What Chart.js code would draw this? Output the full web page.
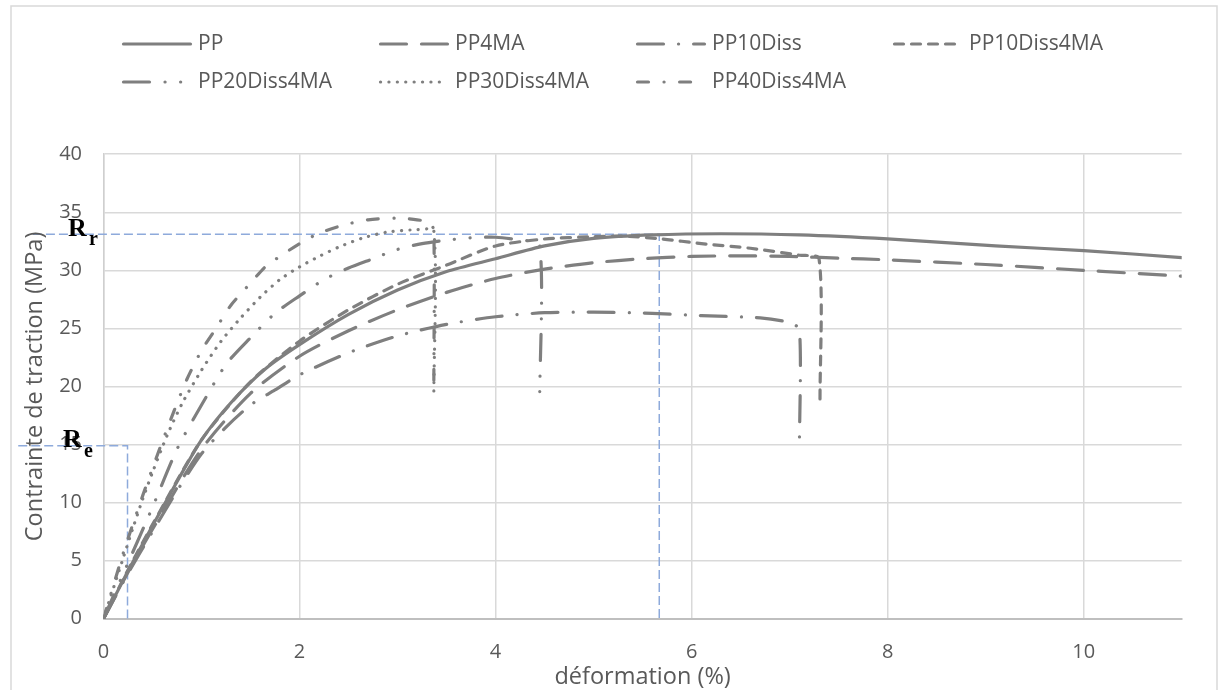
<!DOCTYPE html>
<html>
<head>
<meta charset="utf-8">
<script src="https://cdn.jsdelivr.net/npm/chart.js@4.4.1/dist/chart.umd.min.js"></script>
<style>
    html, body { margin: 0; padding: 0; background: #fff; }
    #wrap { position: relative; width: 1226px; height: 690px; }
</style>
</head>
<body>
<div id="wrap"><canvas id="chart"></canvas></div>
<script>
const FONT       = "'Open Sans', sans-serif";
const TEXT_COLOR = '#595959';
const LINE_COLOR = '#7f7f7f';
const GRID_COLOR = '#d9d9d9';
const REF_COLOR  = '#8eaadb';

// series names, legend order
const seriesNames = ['PP', 'PP4MA', 'PP10Diss', 'PP10Diss4MA', 'PP20Diss4MA', 'PP30Diss4MA', 'PP40Diss4MA'];

// [déformation %, contrainte MPa]
const pp = [[0,0],[0.25,4.1],[0.5,8.0],[0.75,11.8],[1,15.4],[1.3,18.6],[1.65,21.5],[2,23.6],[2.5,26.2],[3,28.3],
            [3.5,29.9],[4,31.0],[4.5,32.1],[5,32.75],[5.6,33.05],[6.3,33.15],[7.1,33.05],[8,32.7],[9.1,32.1],[10,31.7],[11,31.1]];
const pp4ma = [[0,0],[0.25,4.0],[0.5,7.7],[1,14.6],[1.5,19.4],[2,22.6],[2.5,24.8],[3,26.6],[3.5,28.1],[4,29.3],[4.5,30.1],
               [5,30.65],[5.5,31.0],[6,31.2],[6.5,31.25],[7,31.2],[7.5,31.05],[8,30.9],[9,30.5],[10,30.0],[11,29.5]];
const pp10diss = [[0,0],[0.25,3.9],[0.5,7.5],[0.75,11.0],[1,14.2],[1.25,16.5],[1.5,18.4],[1.75,19.7],[2,21.0],[2.5,22.9],
                  [3,24.35],[3.5,25.35],[4,26.0],[4.5,26.35],[5,26.4],[5.6,26.3],[6.1,26.1],[6.7,25.9],[7.0,25.5],[7.1,24.9],[7.1,14.8]];
const pp10diss4ma = [[0,0],[0.25,4.2],[0.5,8.1],[1,15.4],[1.5,20.4],[2,23.9],[2.5,26.6],[3,28.8],[3.5,30.45],[4,32.1],
                     [4.5,32.7],[5,32.9],[5.3,32.95],[5.7,32.7],[6.1,32.3],[6.6,31.9],[7.1,31.3],[7.3,31.0],[7.31,18.7]];
const pp20diss4ma = [[0,0],[0.25,4.8],[0.5,9.6],[0.75,14.6],[1,18.4],[1.25,21.9],[1.5,24.2],[1.75,26.3],[2,27.8],[2.25,29.2],
                     [2.5,30.2],[2.75,31.0],[3,31.8],[3.25,32.3],[3.5,32.6],[3.75,32.8],[4,32.85],[4.25,32.6],[4.45,32.2],[4.45,18.8]];
const pp30diss4ma = [[0,0],[0.2,5.2],[0.3,7.8],[0.4,10.3],[0.5,12.6],[0.65,15.8],[0.8,18.5],[1,21.4],[1.2,23.9],[1.4,25.9],
                     [1.6,27.7],[1.8,29.2],[2,30.3],[2.2,31.2],[2.4,32.0],[2.65,32.8],[2.9,33.3],[3.2,33.5],[3.37,33.4],[3.37,19.1]];
const pp40diss4ma = [[0,0],[0.2,5.6],[0.4,10.6],[0.58,14.8],[0.72,17.9],[0.85,20.6],[1,23.1],[1.14,24.9],[1.3,27.0],[1.5,28.9],
                     [1.65,30.3],[1.8,31.2],[2,32.3],[2.2,33.2],[2.45,33.9],[2.7,34.35],[3,34.5],[3.2,34.35],[3.33,34.1],[3.37,33.4],[3.37,19.5]];

// Rr / Re guide lines (extend left past the axis)
const rrGuide = [[-0.72,33.1],[5.67,33.1],[5.67,0]];
const reGuide = [[-0.87,14.9],[0.245,14.9],[0.245,0]];

const xTicksStep = 2, xMax = 11;
const yTicksStep = 5, yMax = 40;

// excel-like dash styles (round caps)
const dashes = [
    [],
    [26, 15],
    [26, 15, 0.1, 15],
    [9, 8],
    [26, 15.5, 0.1, 15.5, 0.1, 15.5],
    [0.1, 8.3],
    [11, 15.5, 0.1, 15.5]
];

const seriesData = [pp, pp4ma, pp10diss, pp10diss4ma, pp20diss4ma, pp30diss4ma, pp40diss4ma];

const toXY = arr => arr.map(p => ({ x: p[0], y: p[1] }));

const datasets = seriesData.map((arr, i) => ({
    label: seriesNames[i],
    data: toXY(arr),
    borderColor: LINE_COLOR,
    borderWidth: 3.2,
    borderDash: dashes[i],
    borderCapStyle: 'round',
    borderJoinStyle: 'round',
    pointRadius: 0,
    tension: 0.25,
    fill: false
}));

[rrGuide, reGuide].forEach(g => datasets.push({
    label: '',
    data: toXY(g),
    borderColor: REF_COLOR,
    borderWidth: 1.5,
    borderDash: [9, 4],
    pointRadius: 0,
    tension: 0,
    clip: false,
    fill: false
}));


const decoPlugin = {
    id: 'deco',
    beforeDraw(chart) {
        const ctx = chart.ctx;
        ctx.save();
        ctx.fillStyle = '#fff';
        ctx.fillRect(0, 0, chart.width, chart.height);
        ctx.strokeStyle = GRID_COLOR;
        ctx.lineWidth = 1.5;
        ctx.strokeRect(11, 6, 1206, 700);
        ctx.restore();
    },
    afterDraw(chart) {
        const ctx = chart.ctx;
        const area = chart.chartArea;
        const ys = chart.scales.y;
        ctx.save();

        // legend, 4 columns
        seriesNames.forEach((name, i) => {
            const ds = chart.data.datasets[i];
            const x = 122 + (i % 4) * 257;
            const y = i < 4 ? 44 : 82;
            ctx.strokeStyle = ds.borderColor;
            ctx.lineWidth = ds.borderWidth;
            ctx.lineCap = 'round';
            ctx.setLineDash(ds.borderDash);
            ctx.beginPath();
            ctx.moveTo(x + 1.5, y);
            ctx.lineTo(x + 68.5, y);
            ctx.stroke();
            ctx.setLineDash([]);
            ctx.fillStyle = TEXT_COLOR;
            ctx.font = '21px ' + FONT;
            ctx.textBaseline = 'middle';
            ctx.textAlign = 'left';
            ctx.fillText(name, x + 76, y);
        });

        // axis titles
        ctx.fillStyle = TEXT_COLOR;
        ctx.font = '23.5px ' + FONT;
        ctx.textAlign = 'center';
        ctx.textBaseline = 'middle';
        ctx.fillText('déformation (%)', (area.left + area.right) / 2, 677);
        ctx.save();
        ctx.translate(35, (area.top + area.bottom) / 2);
        ctx.rotate(-Math.PI / 2);
        ctx.fillText('Contrainte de traction (MPa)', 0, 0);
        ctx.restore();

        // Rr and Re labels
        ctx.fillStyle = '#000';
        ctx.textAlign = 'left';
        ctx.textBaseline = 'alphabetic';
        const yr = ys.getPixelForValue(rrGuide[0][1]);
        const ye = ys.getPixelForValue(reGuide[0][1]);
        ctx.font = 'bold 26px "Liberation Serif", serif';
        ctx.fillText('R', area.left - 35.5, yr + 2);
        ctx.fillText('R', area.left - 40.5, ye + 1);
        ctx.font = 'bold 20px "Liberation Serif", serif';
        ctx.fillText('r', area.left - 14.5, yr + 11);
        ctx.fillText('e', area.left - 19.5, ye + 11.5);

        ctx.restore();
    }
};

new Chart(document.getElementById('chart'), {
    type: 'line',
    data: { datasets },
    options: {
        responsive: true,
        maintainAspectRatio: false,
        animation: false,
        events: [],
        layout: { padding: { left: 0, right: 44.3, top: 154.2, bottom: 0 } },
        plugins: {
            legend: { display: false },
            tooltip: { enabled: false }
        },
        scales: {
            x: {
                type: 'linear',
                min: 0,
                max: xMax,
                ticks: {
                    stepSize: xTicksStep,
                    includeBounds: false,
                    padding: 22,
                    color: TEXT_COLOR,
                    font: { family: FONT, size: 20 }
                },
                grid: { color: GRID_COLOR, lineWidth: 1.5, drawTicks: false },
                border: { color: '#bfbfbf', width: 2 },
                afterFit: s => { s.height = 71.3; }
            },
            y: {
                min: 0,
                max: yMax,
                ticks: {
                    stepSize: yTicksStep,
                    padding: 21.5,
                    color: TEXT_COLOR,
                    font: { family: FONT, size: 20 }
                },
                grid: { color: GRID_COLOR, lineWidth: 1.5, drawTicks: false },
                border: { color: '#cfcfcf', width: 1.5 },
                afterFit: s => { s.width = 103.5; }
            }
        }
    },
    plugins: [decoPlugin]
});
</script>
</body>
</html>
